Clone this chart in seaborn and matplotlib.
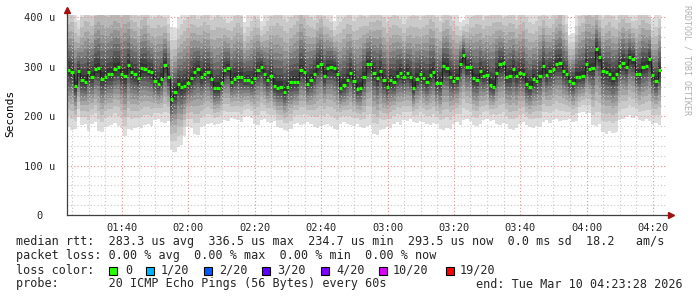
import numpy as np
import matplotlib
matplotlib.use("Agg")
import matplotlib.pyplot as plt
import seaborn as sns
import pandas as pd
from matplotlib.patches import Rectangle

# ---------------- data ----------------
start_min = 83.43          # first sample, minutes after midnight (01:23:26)
step_min = 1.0             # 60 s step

median_us = [
    293, 289, 261, 291, 273, 270, 289, 280, 295, 297, 276, 280, 285, 285, 295,
    299, 285, 282, 304, 289, 285, 277, 297, 295, 291, 289, 272, 266, 276, 303,
    279, 235, 250, 265, 259, 262, 268, 277, 289, 295, 280, 286, 289, 276, 257,
    257, 268, 293, 297, 270, 276, 279, 279, 274, 274, 270, 277, 293, 299, 285,
    273, 282, 262, 257, 259, 249, 259, 269, 269, 269, 293, 289, 265, 274, 285,
    301, 305, 282, 297, 299, 297, 285, 258, 263, 273, 287, 272, 256, 257, 280,
    305, 305, 288, 277, 292, 273, 260, 273, 270, 282, 288, 279, 288, 280, 257,
    276, 285, 277, 270, 283, 289, 268, 268, 301, 297, 280, 272, 277, 305, 324,
    299, 299, 277, 274, 291, 282, 283, 264, 260, 287, 305, 307, 280, 282, 295,
    282, 287, 285, 265, 260, 276, 272, 281, 301, 283, 292, 295, 305, 307, 291,
    286, 272, 268, 280, 280, 281, 305, 295, 297, 336, 320, 291, 290, 285, 278,
    285, 301, 307, 299, 320, 315, 286, 286, 300, 302, 315, 283, 272, 293,
]

low_us = [
    179, 173, 175, 199, 182, 184, 171, 185, 188, 171, 168, 179, 181, 182, 186,
    180, 177, 159, 175, 173, 177, 179, 176, 182, 184, 181, 192, 194, 189, 187,
    190, 132, 128, 138, 141, 159, 179, 176, 165, 163, 179, 181, 185, 187, 183,
    185, 187, 192, 190, 196, 194, 192, 189, 199, 201, 197, 185, 183, 192, 194,
    189, 186, 190, 179, 177, 172, 170, 174, 185, 187, 183, 185, 188, 184, 179,
    177, 181, 182, 185, 180, 175, 173, 185, 188, 184, 182, 180, 184, 179, 176,
    181, 182, 165, 163, 172, 174, 179, 177, 185, 188, 183, 192, 190, 194, 189,
    187, 191, 188, 185, 183, 187, 184, 175, 172, 177, 174, 185, 188, 183, 192,
    194, 190, 182, 180, 184, 192, 195, 190, 193, 185, 183, 187, 184, 175, 172,
    177, 185, 188, 183, 179, 176, 181, 178, 189, 192, 187, 192, 195, 190, 193,
    192, 194, 189, 191, 206, 209, 204, 207, 182, 180, 184, 168, 165, 170, 167,
    169, 192, 194, 199, 202, 197, 200, 192, 190, 194, 191, 185, 187, 183,
]

high_us = [
    430, 440, 420, 395, 430, 450, 440, 430, 455, 465, 470, 460, 455, 465, 470,
    460, 455, 470, 460, 445, 440, 430, 440, 450, 430, 420, 430, 440, 430, 420,
    410, 380, 378, 400, 415, 425, 430, 440, 430, 420, 430, 440, 430, 420, 430,
    440, 430, 420, 410, 420, 430, 440, 430, 390, 405, 420, 430, 420, 392, 405,
    420, 430, 440, 450, 440, 430, 420, 430, 440, 450, 460, 450, 440, 430, 420,
    430, 440, 430, 420, 410, 392, 405, 420, 430, 440, 430, 420, 430, 440, 430,
    420, 430, 440, 450, 440, 430, 420, 430, 440, 430, 420, 410, 420, 430, 440,
    430, 420, 430, 440, 450, 440, 430, 420, 430, 440, 430, 420, 405, 390, 395,
    405, 420, 430, 440, 430, 420, 430, 440, 450, 440, 430, 420, 430, 440, 430,
    420, 430, 440, 430, 420, 410, 420, 430, 440, 430, 420, 430, 440, 450, 430,
    410, 365, 368, 405, 430, 440, 450, 460, 450, 440, 430, 420, 430, 440, 430,
    420, 430, 440, 430, 420, 410, 420, 430, 440, 430, 420, 396, 405, 420,
]

y_ticks = [0, 100, 200, 300, 400]
y_tick_labels = ["0", "100 u", "200 u", "300 u", "400 u"]
x_major = [100, 120, 140, 160, 180, 200, 220, 240, 260]
x_tick_labels = ["01:40", "02:00", "02:20", "02:40", "03:00", "03:20", "03:40", "04:00", "04:20"]

legend_rows = [
    "median rtt:  283.3 us avg  336.5 us max  234.7 us min  293.5 us now  0.0 ms sd  18.2   am/s",
    "packet loss: 0.00 % avg  0.00 % max  0.00 % min  0.00 % now",
]
loss_labels = ["0", "1/20", "2/20", "3/20", "4/20", "10/20", "19/20"]
loss_colors = ["#26ff00", "#00b8ff", "#0059ff", "#5e00ff", "#7e00ff", "#dd00ff", "#ff0000"]
probe_text = "probe:       20 ICMP Echo Pings (56 Bytes) every 60s"
end_text = "end: Tue Mar 10 04:23:28 2026"

# ---------------- figure ----------------
sns.set_theme(style="white")
plt.rcParams["font.family"] = ["DejaVu Sans Mono", "DejaVu Sans"]

W, H = 697, 297
fig = plt.figure(figsize=(W / 100, H / 100), dpi=100, facecolor="white")
ax_l, ax_r, ax_t, ax_b = 67, 666, 15, 215
ax = fig.add_axes([ax_l / W, (H - ax_b) / H, (ax_r - ax_l) / W, (ax_b - ax_t) / H])
ax.set_facecolor("white")

med = np.array(median_us, float)
lo = np.array(low_us, float)
hi = np.array(high_us, float)
n = len(med)
x = start_min + step_min * np.arange(n + 1)

# smoke bands (SmokePing style: outer light -> inner dark)
band_frac = [1.0, 0.82, 0.68, 0.56, 0.46, 0.37, 0.29, 0.21, 0.14, 0.07]
for i, f in enumerate(band_frac):
    lower = med - (med - lo) * f
    upper = med + (hi - med) * f
    g = (int(19 * (9 - i)) + 50) / 255.0
    ax.fill_between(x, np.append(lower, lower[-1]), np.append(upper, upper[-1]),
                    step="post", color=(g, g, g), lw=0, zorder=1, antialiased=False)

xmin = start_min
xmax = 100 + (ax_r - 122) / 3.319
ax.set_xlim(xmin, xmax)
ax.set_ylim(0, 400 * (ax_b - ax_t) / 197.5)

# grid over the smoke
for yv in range(20, 401, 20):
    c = "#e89090" if yv % 100 == 0 else "#c8c8c8"
    ax.axhline(yv, color=c, lw=0.8, ls=(0, (1, 2)), zorder=2)
for mv in range(85, 265, 5):
    c = "#e89090" if mv % 20 == 0 else "#c8c8c8"
    ax.axvline(mv, color=c, lw=0.8, ls=(0, (1, 2)), zorder=2)

# median: dark step line + green loss-colored segments
df = pd.DataFrame({"t": x, "rtt": np.append(med, med[-1])})
sns.lineplot(data=df, x="t", y="rtt", ax=ax, color="#202020", lw=0.8,
             drawstyle="steps-post", estimator=None, zorder=3)
ax.hlines(med, x[:-1], x[1:], colors=loss_colors[0], lw=2.3, zorder=4)

# axes styling
for s in ["top", "right"]:
    ax.spines[s].set_visible(False)
for s in ["left", "bottom"]:
    ax.spines[s].set_color("#404040")
    ax.spines[s].set_linewidth(0.9)
    ax.spines[s].set_zorder(5)
ax.set_xlabel("")
ax.set_ylabel("")

ax.set_xticks(x_major)
ax.set_xticklabels(x_tick_labels)
ax.set_xticks(list(range(85, 265, 5)), minor=True)
ax.set_yticks(y_ticks)
ax.set_yticklabels(y_tick_labels)
ax.set_yticks(list(range(20, 401, 20)), minor=True)
ax.tick_params(axis="x", which="major", length=3, width=0.8, color="#404040",
               labelsize=7.5, pad=3, direction="out")
ax.tick_params(axis="x", which="minor", length=2, width=0.6, color="#404040", direction="out")
ax.tick_params(axis="y", which="major", length=3, width=0.8, color="#404040",
               labelsize=7.5, pad=16.5, direction="out")
ax.tick_params(axis="y", which="minor", length=2, width=0.6, color="#404040", direction="out")
for lab in ax.get_yticklabels():
    lab.set_horizontalalignment("center")

# axis arrows
ax_w, ax_h = ax_r - ax_l, ax_b - ax_t
ax.plot([0, 0], [1.0, 1.0 + 4 / ax_h], transform=ax.transAxes, color="#404040",
        lw=0.9, clip_on=False, zorder=5)
ax.plot([0], [1.0 + 5 / ax_h], marker="^", ms=4, color="#a01010",
        transform=ax.transAxes, clip_on=False, zorder=6)
ax.plot([1.0, 1.0 + 3 / ax_w], [0, 0], transform=ax.transAxes, color="#404040",
        lw=0.9, clip_on=False, zorder=5)
ax.plot([1.0 + 5 / ax_w], [0], marker=">", ms=4, color="#a01010",
        transform=ax.transAxes, clip_on=False, zorder=6)

# y label and watermark
fig.text(10 / W, 1 - 113 / H, "Seconds", rotation=90, ha="center", va="center",
         fontsize=8, color="black")
fig.text(687 / W, 1 - 60 / H, "RRDTOOL / TOBI OETIKER", rotation=270, ha="center",
         va="center", fontsize=6, color="#b0b0b0")

# legend text
fs = 8.5
fig.text(16 / W, 1 - 241 / H, legend_rows[0], ha="left", va="center", fontsize=fs)
fig.text(16 / W, 1 - 256 / H, legend_rows[1], ha="left", va="center", fontsize=fs)
fig.text(16 / W, 1 - 270 / H, "loss color:", ha="left", va="center", fontsize=fs)
box_x = [109, 146, 204, 262, 321, 379, 446]
lab_x = [125, 161, 219, 277, 336, 393, 460]
for bx, lx, lab, col in zip(box_x, lab_x, loss_labels, loss_colors):
    fig.patches.append(Rectangle((bx / W, (H - 274.5) / H), 8 / W, 8 / H,
                                 transform=fig.transFigure, facecolor=col,
                                 edgecolor="black", lw=0.8))
    fig.text(lx / W, 1 - 270 / H, lab, ha="left", va="center", fontsize=fs)
fig.text(16 / W, 1 - 284 / H, probe_text, ha="left", va="center", fontsize=fs)
fig.text(683 / W, 1 - 284 / H, end_text, ha="right", va="center", fontsize=fs)

fig.savefig("out.png", dpi=100, facecolor="white")
